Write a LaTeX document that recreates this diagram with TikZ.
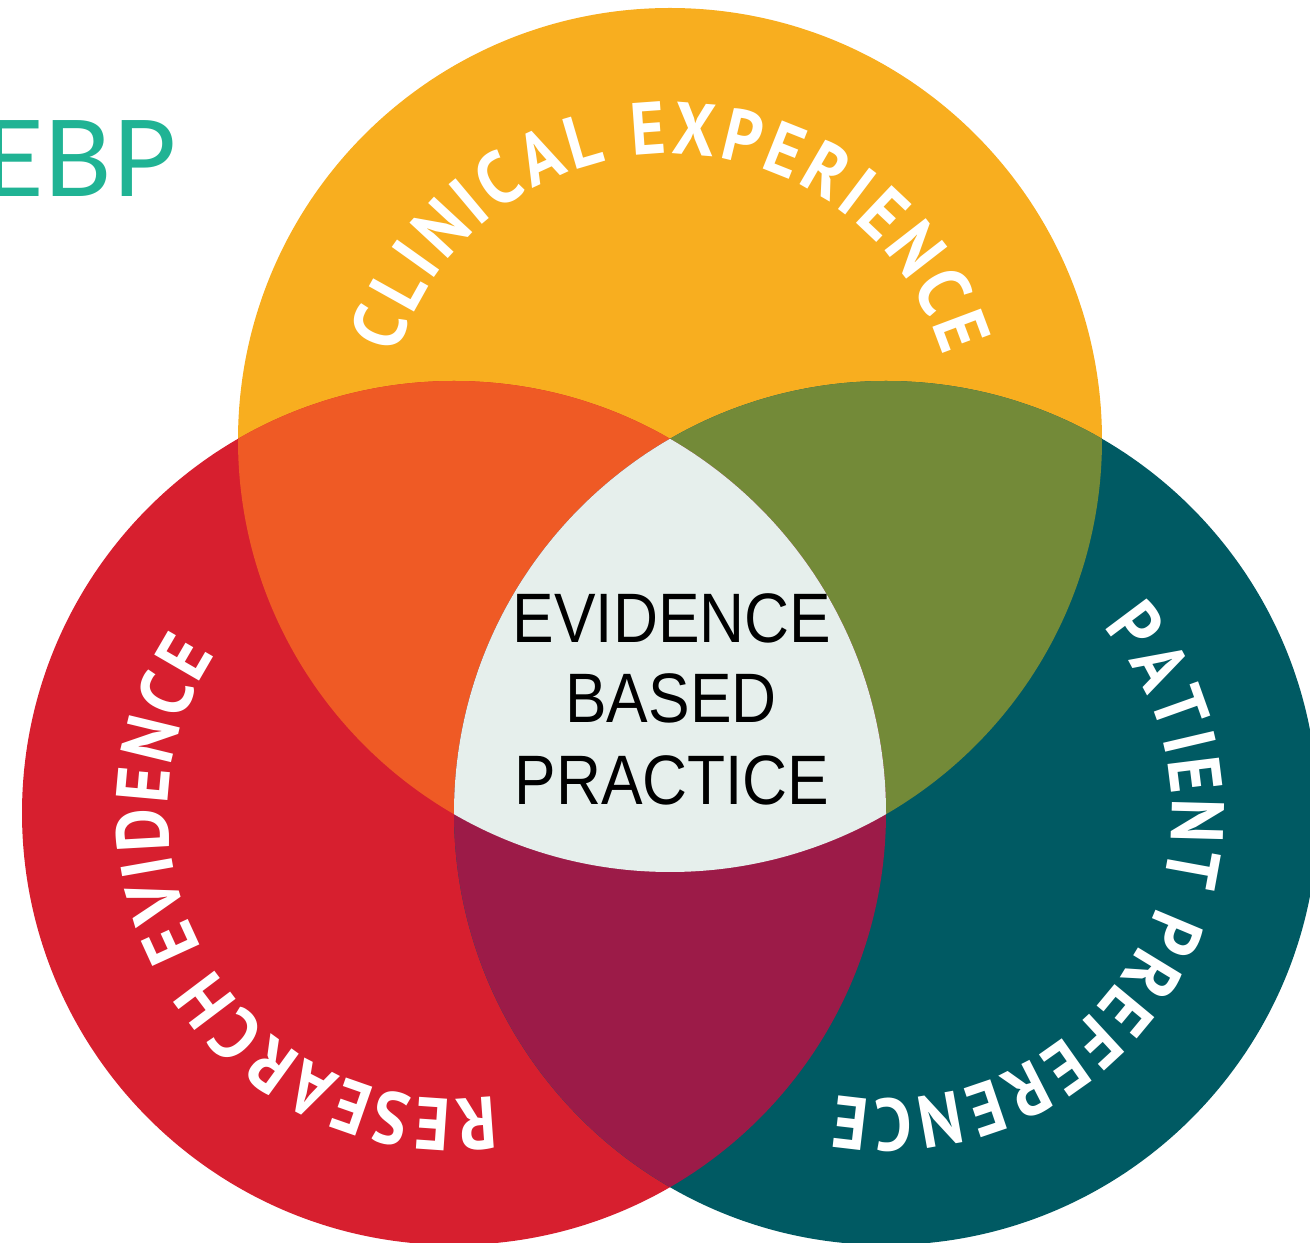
\documentclass[tikz,border=0pt]{standalone}
\usepackage{fontspec}
\setmainfont{Liberation Sans}
\newfontfamily\arcfont[FakeStretch=0.9]{PT Sans}
\newfontfamily\ctrfont[FakeStretch=0.89]{Liberation Sans}
\newfontfamily\ebpfont{Lato}
\usetikzlibrary{decorations.text}
\definecolor{cOrange}{HTML}{F8AE1F}
\definecolor{cRed}{HTML}{D71F2F}
\definecolor{cTeal}{HTML}{005A63}
\definecolor{cOR}{HTML}{EF5A25}
\definecolor{cOlive}{HTML}{738A38}
\definecolor{cMaroon}{HTML}{9C1B48}
\definecolor{cCenter}{HTML}{E6EFEC}
\definecolor{cEBP}{HTML}{20B394}
\tikzset{
  arclabel/.style={decorate, decoration={text along path, text align={fit to path, right indent=5pt}, text color=white}},
  ctrtext/.style={font=\ctrfont\fontsize{70}{80}\selectfont, text=black, inner sep=0pt, anchor=base},
}
\begin{document}
\begin{tikzpicture}[x=1pt,y=1pt]
\useasboundingbox (0,0) rectangle (1310,1243);
\coordinate (T) at (670,803);
\coordinate (L) at (454,430);
\coordinate (R) at (886,430);
\def\rad{432pt}
\fill[cOrange] (T) circle[radius=\rad];
\fill[cRed] (L) circle[radius=\rad];
\fill[cTeal] (R) circle[radius=\rad];
\begin{scope}
  \clip (T) circle[radius=\rad];
  \fill[cOR] (L) circle[radius=\rad];
  \fill[cOlive] (R) circle[radius=\rad];
\end{scope}
\begin{scope}
  \clip (L) circle[radius=\rad];
  \fill[cMaroon] (R) circle[radius=\rad];
\end{scope}
\begin{scope}
  \clip (T) circle[radius=\rad];
  \clip (L) circle[radius=\rad];
  \fill[cCenter] (R) circle[radius=\rad];
\end{scope}
% curved labels (arcs end 1 degree past the text, kept free by the right indent)
\path[arclabel, decoration={text={|\arcfont\bfseries\fontsize{74}{80}\selectfont|CLINICAL EXPERIENCE}}]
  (T) ++(162.6:286pt) arc[start angle=162.6, end angle=16.1, radius=286pt];
\path[arclabel, decoration={text={|\arcfont\bfseries\fontsize{74}{80}\selectfont|RESEARCH EVIDENCE}}]
  (L) ++(278.1:286pt) arc[start angle=278.1, end angle=145.4, radius=286pt];
\path[arclabel, decoration={text={|\arcfont\bfseries\fontsize{74}{80}\selectfont|PATIENT PREFERENCE}}]
  (R) ++(40.6:286pt) arc[start angle=40.6, end angle=-101.1, radius=286pt];
% centre text
\node[ctrtext] (ebp1) at (672,600) {EVIDENCE};
\node[ctrtext] (ebp2) at (671,520) {BASED};
\node[ctrtext] (ebp3) at (672,438) {PRACTICE};
% title
\node[font=\ebpfont\fontsize{106}{110}\selectfont, text=cEBP, anchor=base east, inner sep=0pt] (title) at (176,1046) {EBP};
\end{tikzpicture}
\end{document}
